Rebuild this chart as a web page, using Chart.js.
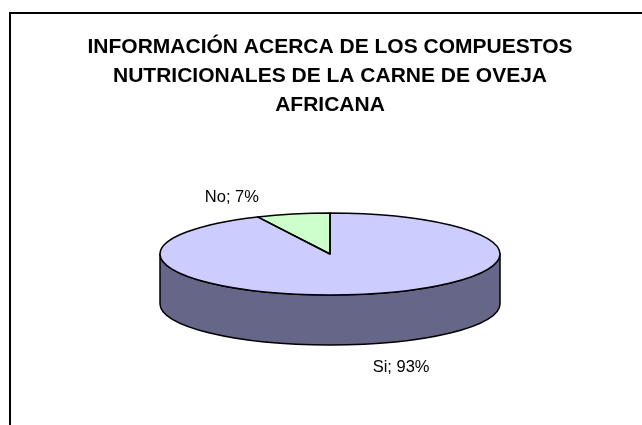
<!DOCTYPE html>
<html>
<head>
<meta charset="utf-8">
<script src="https://cdn.jsdelivr.net/npm/chart.js@4/dist/chart.umd.min.js"></script>
<style>
    html, body { margin: 0; padding: 0; background: #fff; overflow: hidden; }
    #wrap { position: relative; width: 642px; height: 425px; }
    #frame {
        position: absolute; left: 9px; top: 12px;
        width: 700px; height: 500px;
        border: 2px solid #000; box-sizing: border-box;
    }
    canvas { position: absolute; left: 0; top: 0; }
</style>
</head>
<body>
<div id="wrap">
    <div id="frame"></div>
    <canvas id="pieChart" width="642" height="425"></canvas>
</div>
<script>
// Chart data
const titleLines = [
    'INFORMACIÓN ACERCA DE LOS COMPUESTOS',
    'NUTRICIONALES DE LA CARNE DE OVEJA',
    'AFRICANA'
];
const categories = ['Si', 'No'];
const values = [93, 7];

// Styles
const topColors = ['#ccccff', '#ccffcc'];
const sideColors = ['#666688', '#669966'];
const labelOffsets = [[34, 23], [-61, -17]];
const flatten = 0.2412;   // vertical squish of the pie (ellipse ry / rx)
const depth = 50;         // thickness of the pie in px
const fontFamily = '"Liberation Sans", Arial, sans-serif';

// Point on the top ellipse for a given angle
function ellipsePoint(arc, angle, down) {
    return {
        x: arc.x + arc.outerRadius * Math.cos(angle),
        y: arc.y + arc.outerRadius * flatten * Math.sin(angle) + (down || 0)
    };
}

const pie3d = {
    id: 'pie3d',
    beforeDatasetDraw(chart, args) {
        const ctx = chart.ctx;
        const arcs = args.meta.data;
        ctx.save();
        ctx.lineWidth = 1.5;
        ctx.strokeStyle = '#000';
        ctx.lineJoin = 'round';

        // side walls: only the part of each slice facing the viewer (0..PI)
        arcs.forEach((arc, i) => {
            const p = arc.getProps(['x', 'y', 'startAngle', 'endAngle', 'outerRadius'], true);
            const twoPi = Math.PI * 2;
            [-twoPi, 0, twoPi].forEach(shift => {
                const a0 = Math.max(p.startAngle + shift, 0);
                const a1 = Math.min(p.endAngle + shift, Math.PI);
                if (a1 <= a0) return;
                const rx = p.outerRadius;
                const ry = p.outerRadius * flatten;
                ctx.beginPath();
                ctx.ellipse(p.x, p.y, rx, ry, 0, a0, a1, false);
                ctx.ellipse(p.x, p.y + depth, rx, ry, 0, a1, a0, true);
                ctx.closePath();
                ctx.fillStyle = sideColors[i];
                ctx.fill();
                ctx.stroke();
            });
        });

        // squash the real pie into an ellipse for the top face
        const c = arcs[0];
        ctx.translate(c.x, c.y);
        ctx.scale(1, flatten);
        ctx.translate(-c.x, -c.y);
    },
    afterDatasetDraw(chart, args) {
        const ctx = chart.ctx;
        ctx.restore();

        // outlines of the top face, drawn unscaled so the line keeps its width
        ctx.save();
        ctx.lineWidth = 1.5;
        ctx.strokeStyle = '#000';
        ctx.lineJoin = 'round';
        args.meta.data.forEach(arc => {
            const p = arc.getProps(['x', 'y', 'startAngle', 'endAngle', 'outerRadius'], true);
            const s = ellipsePoint(p, p.startAngle);
            ctx.beginPath();
            ctx.moveTo(p.x, p.y);
            ctx.lineTo(s.x, s.y);
            ctx.ellipse(p.x, p.y, p.outerRadius, p.outerRadius * flatten, 0, p.startAngle, p.endAngle, false);
            ctx.closePath();
            ctx.stroke();
        });
        ctx.restore();
    },
    afterDatasetsDraw(chart) {
        const ctx = chart.ctx;
        const meta = chart.getDatasetMeta(0);
        const total = values.reduce((a, b) => a + b, 0);
        ctx.save();
        ctx.font = '16.5px ' + fontFamily;
        ctx.fillStyle = '#000';
        ctx.textAlign = 'center';
        ctx.textBaseline = 'middle';
        meta.data.forEach((arc, i) => {
            const p = arc.getProps(['x', 'y', 'startAngle', 'endAngle', 'outerRadius'], true);
            const mid = (p.startAngle + p.endAngle) / 2;
            const pt = ellipsePoint(p, mid, Math.sin(mid) > 0 ? depth : 0);
            const pct = Math.round(values[i] / total * 100);
            ctx.fillText(categories[i] + '; ' + pct + '%', pt.x + labelOffsets[i][0], pt.y + labelOffsets[i][1]);
        });
        ctx.restore();
    }
};

const ctx = document.getElementById('pieChart').getContext('2d');
const chart = new Chart(ctx, {
    type: 'pie',
    data: {
        labels: categories,
        datasets: [{
            data: values,
            backgroundColor: topColors,
            borderWidth: 0,
            clip: false
        }]
    },
    options: {
        responsive: false,
        animation: false,
        radius: 170,
        layout: {
            padding: { left: 30, right: 12, top: 0, bottom: 37 }
        },
        plugins: {
            legend: { display: false },
            tooltip: { enabled: false },
            title: {
                display: true,
                text: titleLines,
                color: '#000',
                font: { family: fontFamily, size: 21, weight: 'bold', lineHeight: '29px' },
                padding: { top: 32.5, bottom: 0.5 }
            }
        }
    },
    plugins: [pie3d]
});
</script>
</body>
</html>
